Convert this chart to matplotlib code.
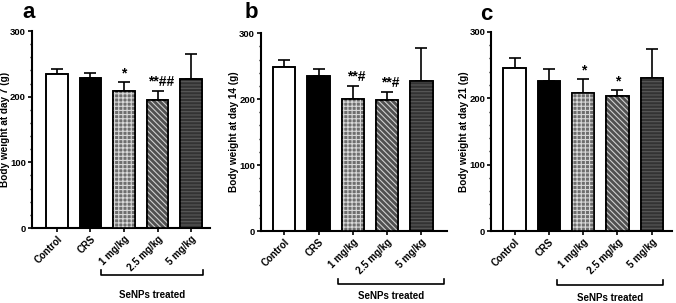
import numpy as np
import matplotlib
matplotlib.use("Agg")
import matplotlib.pyplot as plt
import matplotlib.transforms as mtransforms
from matplotlib.ticker import MultipleLocator

plt.rcParams['font.family'] = ['Liberation Sans', 'DejaVu Sans']
plt.rcParams['font.weight'] = 'bold'
plt.rcParams['hatch.linewidth'] = 0.8

groups = ["Control", "CRS", "1 mg/kg", "2.5 mg/kg", "5 mg/kg"]

day7_mean = [235, 228, 209, 195, 227]
day7_err = [7, 8, 13, 13, 38]
day7_sig = ["", "", "*", "**##", ""]

day14_mean = [248, 235, 200, 199, 228]
day14_err = [12, 11, 20, 12, 50]
day14_sig = ["", "", "**#", "**#", ""]

day21_mean = [245, 226, 208, 203, 231]
day21_err = [16, 18, 21, 9, 44]
day21_sig = ["", "", "*", "*", ""]

panels = [
    ("a", "Body weight at day 7 (g)", day7_mean, day7_err, day7_sig),
    ("b", "Body weight at day 14 (g)", day14_mean, day14_err, day14_sig),
    ("c", "Body weight at day 21 (g)", day21_mean, day21_err, day21_sig),
]

# axes boxes [left, bottom, width, height], xlim, bracket span/offsets
boxes = [
    [0.047, 0.2475, 0.263, 0.650],
    [0.386, 0.2376, 0.275, 0.653],
    [0.7263, 0.2376, 0.2678, 0.657],
]
xlims = [(-0.75, 4.55), (-0.68, 4.74), (-0.69, 4.59)]
brackets = [(1.31, 4.36, -0.24, -0.34), (1.56, 4.65, -0.27, -0.33), (1.23, 4.33, -0.27, -0.335)]
label_pos = [(22, 12), (245, 12), (480, 14)]
ylabel_x = [5, 234, 464]

faces = ["white", "black", "#6e6e6e", "#505050", "#333333"]
hatches = [None, None, "++++", "\\\\\\\\\\\\", "-----"]
hatch_cols = [None, None, "#d8d8d8", "#cfcfcf", "#5a5a5a"]

fig = plt.figure(figsize=(6.76, 3.03), dpi=100)

for i, (tag, ylab, mean, err, sig) in enumerate(panels):
    ax = fig.add_axes(boxes[i])
    x = np.arange(len(groups))
    w = 0.65
    ax.bar(x, mean, width=w, color=faces, edgecolor="black", linewidth=1.2, zorder=2)
    for j in range(len(groups)):
        if hatches[j]:
            ax.bar(x[j], mean[j], width=w, color="none", edgecolor=hatch_cols[j],
                   hatch=hatches[j], linewidth=0, zorder=3)
    ax.bar(x, mean, width=w, color="none", edgecolor="black", linewidth=1.2, zorder=4)
    ax.errorbar(x, mean, yerr=[np.zeros(len(err)), err], fmt="none", ecolor="black",
                elinewidth=1.2, capsize=4, capthick=1.2, zorder=1)
    for j, s in enumerate(sig):
        if s:
            ax.text(x[j] + (0.1 if "#" in s else 0), mean[j] + err[j] + 3, s,
                    ha="center", va="bottom", fontsize=10, fontweight="bold")

    ax.set_ylim(0, 300)
    ax.set_xlim(*xlims[i])
    ax.yaxis.set_major_locator(MultipleLocator(100))
    ax.yaxis.set_minor_locator(MultipleLocator(20))
    ax.set_xticks(x)
    ax.set_xticklabels(groups, rotation=45, ha="right", rotation_mode="anchor",
                       fontsize=7, fontweight="bold")
    for lab in ax.get_yticklabels():
        lab.set_fontsize(6.8)
        lab.set_fontweight("bold")
    ax.tick_params(axis="both", which="major", length=3, width=1.2, pad=1.2)
    ax.tick_params(axis="y", which="minor", length=1.8, width=1)
    ax.spines["top"].set_visible(False)
    ax.spines["right"].set_visible(False)
    ax.spines["left"].set_linewidth(1.5)
    ax.spines["bottom"].set_linewidth(1.5)

    fig.text(ylabel_x[i] / 676, boxes[i][1] + 0.5 * boxes[i][3], ylab,
             rotation=90, ha="center", va="center", fontsize=7.2, fontweight="bold")
    fig.text(label_pos[i][0] / 676, 1 - label_pos[i][1] / 303, tag, ha="left", va="center",
             fontsize=16, fontweight="bold")

    x0, x1, yb, yt = brackets[i]
    trans = mtransforms.blended_transform_factory(ax.transData, ax.transAxes)
    ax.plot([x0, x0, x1, x1], [yb + 0.025, yb, yb, yb + 0.025], color="black",
            linewidth=1.2, transform=trans, clip_on=False)
    ax.text((x0 + x1) / 2, yt, "SeNPs treated", transform=trans, ha="center",
            va="center", fontsize=7, fontweight="bold")

fig.savefig("out.png", dpi=100)
